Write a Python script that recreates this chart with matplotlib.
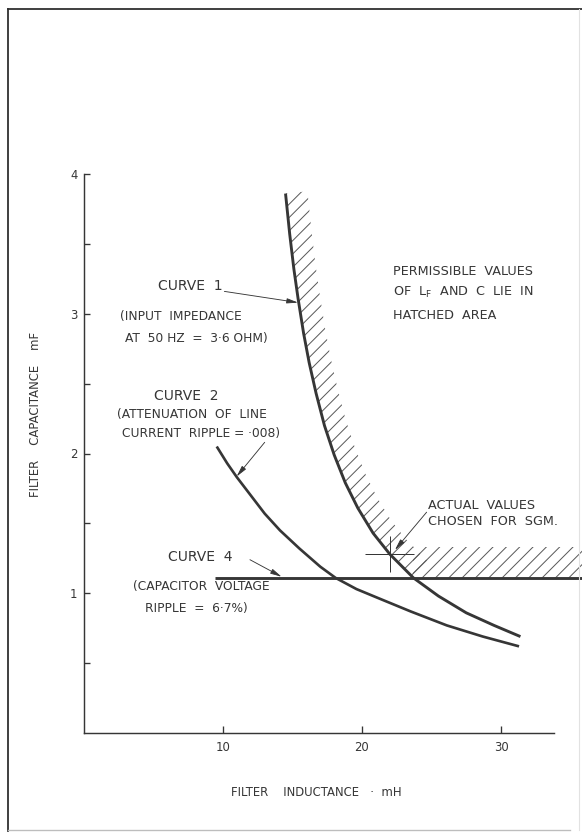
import numpy as np
import matplotlib.pyplot as plt
from matplotlib.lines import Line2D

# filter inductance (mH) against filter capacitance (mF)
curve1_L = [14.5, 14.8, 15.1, 15.4, 15.8, 16.2, 16.7, 17.3, 18.0, 18.8, 19.7,
            20.8, 22.0, 23.7, 25.5, 27.5, 29.5, 31.4]
curve1_C = [3.86, 3.57, 3.32, 3.11, 2.86, 2.65, 2.43, 2.20, 1.99, 1.79, 1.61,
            1.43, 1.28, 1.11, 0.98, 0.86, 0.77, 0.69]

curve2_L = [9.55, 10.3, 11.0, 12.0, 13.0, 14.1, 15.5, 17.0, 18.1, 19.6, 21.3,
            23.5, 26.1, 28.7, 31.3]
curve2_C = [2.05, 1.93, 1.83, 1.70, 1.57, 1.45, 1.32, 1.19, 1.11, 1.03, 0.96,
            0.87, 0.77, 0.69, 0.62]

curve4_L = [9.4, 35.8]
curve4_C = [1.11, 1.11]

chosen_L = 22.0
chosen_C = 1.28

x_ticks = [10, 20, 30]
y_ticks = [1, 2, 3, 4]
y_minor = [0.5, 1.5, 2.5, 3.5]

ink = '#363636'
plt.rcParams['font.family'] = 'DejaVu Sans'
plt.rcParams['hatch.linewidth'] = 0.9

fig = plt.figure(figsize=(582 / 80, 832 / 80), dpi=80)
fig.patch.set_facecolor('white')
ax = fig.add_axes([84 / 582, 99 / 832, 498 / 582, 559 / 832])
ax.set_xlim(0, 35.83)
ax.set_ylim(0, 4)

# axes: only left and bottom, ticks pointing inwards
for side in ['top', 'right']:
    ax.spines[side].set_visible(False)
for side in ['left', 'bottom']:
    ax.spines[side].set_color(ink)
    ax.spines[side].set_linewidth(1.3)
ax.spines['left'].set_bounds(0, 4)
ax.spines['bottom'].set_bounds(0, 33.8)

ax.set_xticks(x_ticks)
ax.set_yticks(y_ticks)
ax.set_yticks(y_minor, minor=True)
ax.tick_params(axis='x', direction='in', length=6.3, width=1.2, color=ink,
               pad=7, labelsize=10.5, labelcolor=ink)
ax.tick_params(axis='y', which='both', direction='in', length=5.4, width=1.2,
               color=ink, pad=6, labelsize=10.5, labelcolor=ink)

ax.set_xlabel('FILTER    INDUCTANCE   ·  mH', fontsize=10.5, color=ink)
ax.xaxis.set_label_coords(0.466, -0.095)
ax.set_ylabel('FILTER    CAPACITANCE    mF', fontsize=10.5, color=ink)
ax.yaxis.set_label_coords(-0.0843, 0.569)

# hatched band on the permissible side of curve 1 and above curve 4
trans = ax.transData
c1 = np.column_stack([curve1_L, curve1_C])
upper = c1[c1[:, 1] >= curve4_C[0]]
p = trans.transform(upper)
d = np.gradient(p, axis=0)
n = np.column_stack([-d[:, 1], d[:, 0]])
n /= np.hypot(n[:, 0], n[:, 1])[:, None]
outer = p + 22 * n
band = trans.inverted().transform(np.vstack([p, outer[::-1]]))
ax.fill(band[:, 0], band[:, 1], facecolor='none', edgecolor='#5a5a5a',
        linewidth=0, hatch='//', zorder=1)

band_top = curve4_C[0] + 31 / 139.75
corner_L = upper[-1, 0]
ax.fill([corner_L, 35.83, 35.83, corner_L],
        [curve4_C[0], curve4_C[0], band_top, band_top],
        facecolor='none', edgecolor='#5a5a5a', linewidth=0, hatch='//', zorder=1)

ax.plot(curve1_L, curve1_C, color=ink, lw=2.6, zorder=3, solid_capstyle='butt')
ax.plot(curve2_L, curve2_C, color=ink, lw=2.4, zorder=3, solid_capstyle='butt')
ax.plot(curve4_L, curve4_C, color=ink, lw=2.6, zorder=3, solid_capstyle='butt')

# chosen design point
ax.errorbar([chosen_L], [chosen_C], xerr=1.76, yerr=0.13, fmt='none',
            ecolor=ink, elinewidth=0.9, capsize=0, zorder=4)

arrow = dict(arrowstyle='-|>,head_length=0.7,head_width=0.16', color=ink,
             lw=0.8, shrinkA=0, shrinkB=0, mutation_scale=12)

big = 12.5
mid = 11.5
small = 11

ax.text(5.32, 3.20, 'CURVE  1', fontsize=big, color=ink, va='center')
ax.text(2.59, 2.98, '(INPUT  IMPEDANCE', fontsize=small, color=ink, va='center')
ax.text(2.95, 2.82, 'AT  50 HZ  =  3·6 OHM)', fontsize=small, color=ink, va='center')
ax.annotate('', xy=(15.4, 3.08), xytext=(10.1, 3.16), arrowprops=arrow)

ax.text(5.04, 2.41, 'CURVE  2', fontsize=big, color=ink, va='center')
ax.text(2.37, 2.28, '(ATTENUATION  OF  LINE', fontsize=small, color=ink, va='center')
ax.text(2.73, 2.14, 'CURRENT  RIPPLE = ·008)', fontsize=small, color=ink, va='center')
ax.annotate('', xy=(10.98, 1.835), xytext=(13.0, 2.08), arrowprops=arrow)

ax.text(6.04, 1.26, 'CURVE  4', fontsize=big, color=ink, va='center')
ax.text(3.53, 1.045, '(CAPACITOR  VOLTAGE', fontsize=small, color=ink, va='center')
ax.text(4.39, 0.894, 'RIPPLE  =  6·7%)', fontsize=small, color=ink, va='center')
ax.annotate('', xy=(14.22, 1.118), xytext=(11.94, 1.24), arrowprops=arrow)

ax.text(22.2, 3.30, 'PERMISSIBLE  VALUES', fontsize=mid, color=ink, va='center')
ax.text(22.2, 3.15, r'OF  L$_\mathregular{F}$  AND  C  LIE  IN', fontsize=mid,
        color=ink, va='center')
ax.text(22.2, 2.99, 'HATCHED  AREA', fontsize=mid, color=ink, va='center')

ax.text(24.75, 1.63, 'ACTUAL  VALUES', fontsize=mid, color=ink, va='center')
ax.text(24.75, 1.51, 'CHOSEN  FOR  SGM.', fontsize=mid, color=ink, va='center')
ax.annotate('', xy=(22.37, 1.31), xytext=(24.65, 1.58), arrowprops=arrow)

# drawing border
W, H = 582, 832
def border(x0, y0, x1, y1, color, lw):
    fig.add_artist(Line2D([x0 / W, x1 / W], [1 - y0 / H, 1 - y1 / H],
                          transform=fig.transFigure, color=color, lw=lw))

border(8, 9, 582, 9, '#2e2e2e', 1.6)
border(8, 9, 8, 831, '#2e2e2e', 1.6)
border(8, 830, 570, 830, '#bdbdbd', 1.2)
border(579, 9, 579, 830, '#e2e2e2', 1.0)

fig.savefig('out.png', dpi=80)
